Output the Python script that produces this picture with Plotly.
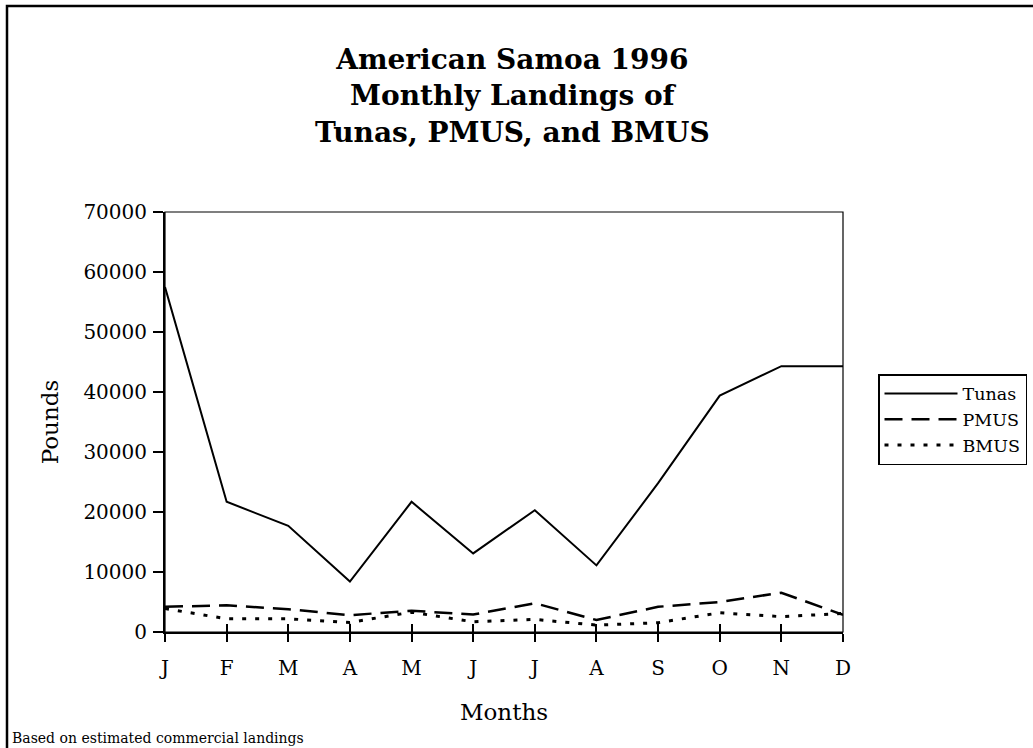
import plotly.graph_objects as go

# monthly landings, pounds
months = ["J", "F", "M", "A", "M", "J", "J", "A", "S", "O", "N", "D"]
tunas = [57500, 21700, 17700, 8400, 21700, 13100, 20300, 11100, 24800, 39400, 44300, 44300]
pmus = [4200, 4450, 3800, 2800, 3550, 2900, 4800, 2000, 4200, 5000, 6550, 2850]
bmus = [3900, 2200, 2200, 1600, 3300, 1700, 2100, 1150, 1550, 3200, 2550, 3100]

FONT = "DejaVu Serif"
W, H = 1033, 748
L, R, T, B = 165, 843, 212, 632  # plot area in px

idx = list(range(len(months)))


def px_x(p):
    return (p - L) / (R - L)


def px_y(p):
    return (B - p) / (B - T)


fig = go.Figure()
fig.add_trace(go.Scatter(x=idx, y=tunas, name="Tunas", mode="lines",
                         line=dict(color="black", width=2)))
fig.add_trace(go.Scatter(x=idx, y=pmus, name="PMUS", mode="lines",
                         line=dict(color="black", width=2.5, dash="18px,9px")))
fig.add_trace(go.Scatter(x=idx, y=bmus, name="BMUS", mode="lines",
                         line=dict(color="black", width=3, dash="4px,9px")))
# dummy trace so the second x axis (inside ticks) gets drawn
fig.add_trace(go.Scatter(x=idx, y=[None] * len(idx), xaxis="x2", showlegend=False,
                         hoverinfo="skip"))

fig.update_layout(
    width=W, height=H,
    margin=dict(l=L, r=W - R, t=T, b=H - B, autoexpand=False),
    paper_bgcolor="white", plot_bgcolor="white",
    font=dict(family=FONT, color="black"),
    showlegend=True,
    legend=dict(x=px_x(878), y=px_y(374), xanchor="left", yanchor="top",
                bordercolor="black", borderwidth=1.5, bgcolor="white",
                font=dict(family=FONT, size=17.5), tracegroupgap=0,
                itemwidth=73),
    xaxis=dict(range=[0, 11], tickvals=idx, ticktext=months,
               ticks="outside", ticklen=8, tickwidth=2, tickcolor="black",
               showline=True, linecolor="black", linewidth=2,
               showgrid=False, zeroline=False,
               tickfont=dict(family=FONT, size=20), ticklabelstandoff=9,
               title=dict(text="Months", font=dict(family=FONT, size=23), standoff=25)),
    xaxis2=dict(range=[0, 11], tickvals=idx, overlaying="x", anchor="y", side="bottom",
                ticks="inside", ticklen=8, tickwidth=2, tickcolor="black",
                showticklabels=False, showgrid=False, zeroline=False, showline=False),
    yaxis=dict(range=[0, 70000], dtick=10000, tickformat="d",
               ticks="outside", ticklen=10, tickwidth=2, tickcolor="black",
               showline=True, linecolor="black", linewidth=2,
               showgrid=False, zeroline=False,
               tickfont=dict(family=FONT, size=20), ticklabelstandoff=2,
               title=dict(text="Pounds", font=dict(family=FONT, size=23), standoff=18)),
)

# thin frame on top and right of the plot area
fig.add_shape(type="rect", xref="paper", yref="paper", x0=0, x1=1, y0=0, y1=1,
              line=dict(color="black", width=1.2), layer="below")
# chart border (left and top visible)
fig.add_shape(type="rect", xref="paper", yref="paper",
              x0=px_x(7), x1=px_x(1045), y0=px_y(765), y1=px_y(6),
              line=dict(color="black", width=2.5))

fig.add_annotation(text="<b>American Samoa 1996<br>Monthly Landings of<br>Tunas, PMUS, and BMUS</b>",
                   xref="paper", yref="paper", x=px_x(512), y=px_y(41),
                   xanchor="center", yanchor="top", showarrow=False,
                   font=dict(family=FONT, size=28))
fig.add_annotation(text="Based on estimated commercial landings",
                   xref="paper", yref="paper", x=px_x(10), y=px_y(738),
                   xanchor="left", yanchor="middle", showarrow=False,
                   font=dict(family=FONT, size=14))

# drop the default page margin so the figure sits at the window's corner
fig.write_html("out.html", config={"displayModeBar": False},
               post_script="document.body.style.margin='0px';")
